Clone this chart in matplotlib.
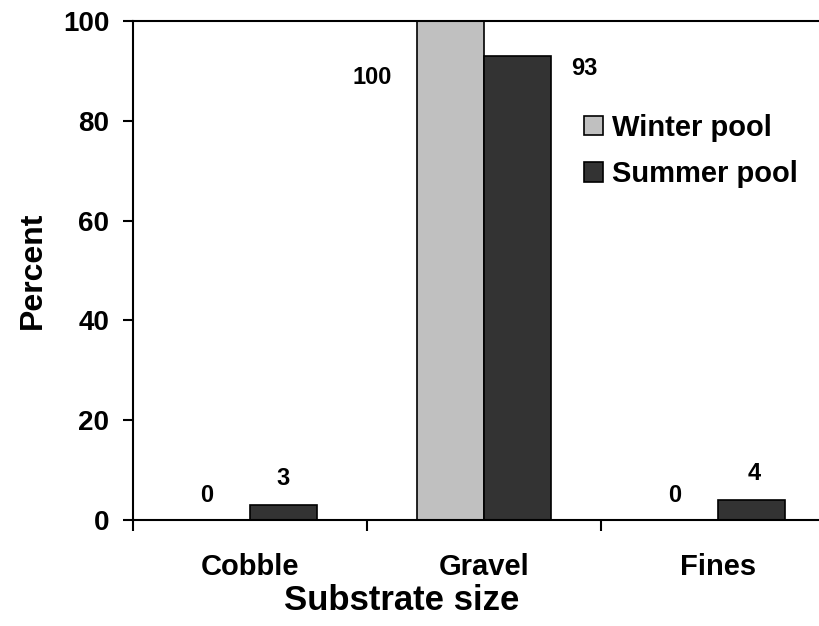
import numpy as np
import matplotlib
matplotlib.use("Agg")
import matplotlib.pyplot as plt

plt.rcParams['font.family'] = ['Liberation Sans', 'DejaVu Sans']
plt.rcParams['font.weight'] = 'bold'

# data
categories = ['Cobble', 'Gravel', 'Fines']
winter_pool = [0, 100, 0]
summer_pool = [3, 93, 4]
y_ticks = [0, 20, 40, 60, 80, 100]

# label offsets (pixels) from the top centre of each bar, as Excel placed them
winter_offsets = [(-10, 25), (-78, -56), (-10, 25)]
summer_offsets = [(0, 27), (67, -13), (3, 27)]

W, H = 820, 626
fig = plt.figure(figsize=(W / 100, H / 100), dpi=100)
ax = fig.add_axes([133 / W, 1 - 520 / H, (835 - 133) / W, (520 - 21) / H])

x = np.arange(len(categories)) + 0.5
bw = 1 / 3.5  # excel gap width 150%

b1 = ax.bar(x - bw / 2, winter_pool, bw, color='#c0c0c0', edgecolor='black',
            linewidth=1.2, label='Winter pool')
b2 = ax.bar(x + bw / 2, summer_pool, bw, color='#333333', edgecolor='black',
            linewidth=1.2, label='Summer pool')

for bars, vals, offs in [(b1, winter_pool, winter_offsets), (b2, summer_pool, summer_offsets)]:
    for r, v, (dx, dy) in zip(bars, vals, offs):
        ax.annotate(str(v), (r.get_x() + r.get_width() / 2, r.get_height()),
                    xytext=(dx, dy), textcoords='offset pixels',
                    ha='center', va='center', fontsize=17, fontweight='bold')

ax.set_xlim(0, 3)
ax.set_ylim(0, 100)
ax.set_yticks(y_ticks)
ax.tick_params(axis='y', direction='out', length=7, width=1.5, pad=10, labelsize=20)

# boundary ticks as major, category names on minor ticks
ax.set_xticks([0, 1, 2, 3])
ax.set_xticklabels([])
ax.tick_params(axis='x', which='major', direction='out', length=8, width=1.5)
ax.set_xticks(x, minor=True)
ax.set_xticklabels(categories, minor=True)
ax.tick_params(axis='x', which='minor', length=0, pad=24, labelsize=21)

for s in ['left', 'bottom', 'top']:
    ax.spines[s].set_linewidth(1.5)
ax.spines['right'].set_visible(False)

ax.set_ylabel('Percent', fontsize=23, fontweight='bold', labelpad=11)
ax.set_xlabel('Substrate size', fontsize=25, fontweight='bold', labelpad=2)
# excel centres the title on the visible part of the plot area
ax.xaxis.label.set_x(0.383)

leg = ax.legend(loc='upper left', bbox_to_anchor=(584 / W, 1 - 114 / H),
                bbox_transform=fig.transFigure, frameon=False, fontsize=21,
                handlelength=0.66, handleheight=0.65, handletextpad=0.3,
                labelspacing=0.62, borderpad=0, borderaxespad=0)

fig.savefig('out.png', dpi=100)
